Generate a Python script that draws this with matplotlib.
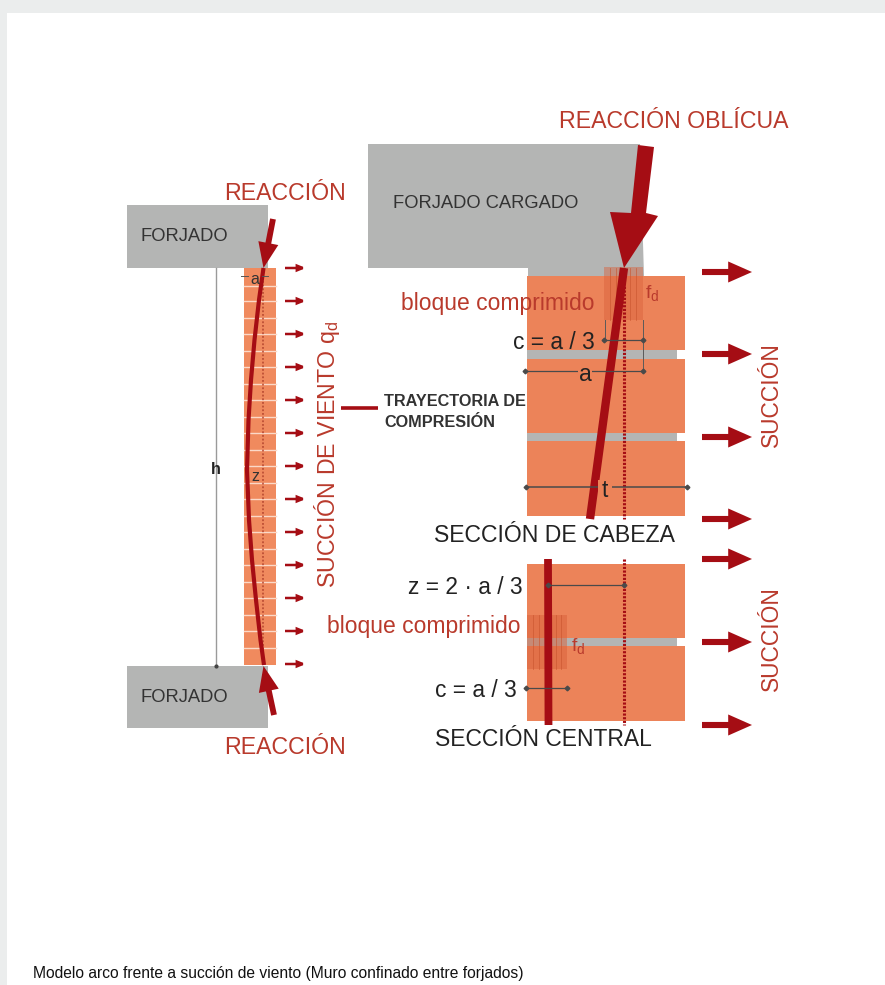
import matplotlib
matplotlib.use("Agg")
import matplotlib.pyplot as plt
from matplotlib.patches import Rectangle, Polygon

plt.rcParams['font.family'] = ['Liberation Sans', 'DejaVu Sans']

RED = '#a50d14'
TXT_RED = '#b93a2c'
ORANGE = '#ec8359'
WALL = '#f08a5e'
GRAY = '#b4b5b4'
DARK = '#333333'

# Left wall
wall_arrow_y = [268, 301, 334, 367, 400, 433, 466, 499, 532, 565, 598, 631, 664]
wall_joint_y = [286, 301, 318, 334, 351, 367, 384, 400, 417, 433, 450, 466, 483, 499,
                516, 532, 549, 565, 582, 598, 615, 631, 648]
arch_y = [268, 300, 340, 380, 420, 470, 520, 560, 600, 640, 665]
arch_x = [263.5, 259, 254.5, 251, 248.5, 247, 249, 252, 256, 260.5, 264]

# Right sections
big_arrow_y = [272, 354, 437, 519, 559, 642, 725]
head_blocks = [(276, 350), (359, 433), (441, 516)]
head_joints = [(350, 359), (433, 441)]
central_blocks = [(564, 638), (646, 721)]
central_joints = [(638, 646)]

fig = plt.figure(figsize=(8.85, 9.85), dpi=100)
ax = fig.add_axes([0, 0, 1, 1])
ax.set_xlim(0, 885)
ax.set_ylim(985, 0)
ax.axis('off')


def rect(x0, y0, x1, y1, **kw):
    kw.setdefault('lw', 0)
    ax.add_patch(Rectangle((x0, y0), x1 - x0, y1 - y0, **kw))


def txt(x, y, s, size, color=DARK, ha='left', va='center', **kw):
    if 'rotation' not in kw:
        y += 1.5
    ax.text(x, y, s, fontsize=size, color=color, ha=ha, va=va, **kw)


def arrow(x0, y0, x1, y1, lw, hw, hl):
    ax.annotate('', xy=(x1, y1), xytext=(x0, y0),
                arrowprops=dict(arrowstyle=f'-|>,head_width={hw},head_length={hl}',
                                lw=lw, color=RED, shrinkA=0, shrinkB=0,
                                joinstyle='miter', capstyle='butt'))


def dim(x0, x1, y, lw=0.9):
    ax.plot([x0, x1], [y, y], color='#4a4a4a', lw=lw, zorder=6)
    ax.plot([x0, x1], [y, y], ls='', marker='D', ms=2.4, color='#4a4a4a', zorder=6)


# page background
rect(0, 0, 885, 13, fc='#ebeded')
rect(0, 0, 7, 985, fc='#ebeded')

# --- left diagram
rect(127, 205, 268, 268, fc=GRAY)
rect(127, 666, 268, 728, fc=GRAY)
rect(244, 268, 276, 665, fc=WALL)
for y in wall_joint_y:
    ax.plot([244, 276], [y, y], color='#fbd9c8', lw=1.0)
ax.plot([263, 263], [270, 665], color='#b5452f', lw=1.1, ls=(0, (1.2, 1.2)))
ax.plot(arch_x, arch_y, color=RED, lw=3.0, solid_capstyle='butt')
ax.plot([216, 216], [268, 666], color='#9a9a9a', lw=1.0)
ax.plot([216], [666], marker='o', ms=2, color='#444444')
arrow(273, 219, 263.5, 268, 4.2, 0.42, 1.05)
arrow(274, 715, 263.5, 666, 4.2, 0.42, 1.05)
for y in wall_arrow_y:
    arrow(285, y, 306, y, 1.8, 0.17, 0.42)
ax.plot([341, 378], [408, 408], color=RED, lw=2.6, solid_capstyle='butt')

txt(140, 235, 'FORJADO', 13.2)
txt(140, 696, 'FORJADO', 13.2)
txt(224, 192, 'REACCIÓN', 16.7, TXT_RED)
txt(224, 746, 'REACCIÓN', 16.7, TXT_RED)
txt(255, 278, 'a', 11.5, DARK, ha='center')
txt(255, 475, 'z', 11.5, DARK, ha='center')
ax.plot([241, 248], [276, 276], color='#555555', lw=0.7)
ax.plot([262, 268], [276, 276], color='#555555', lw=0.7)
rect(211, 460, 222, 477, fc='white')
txt(216, 468, 'h', 11.5, '#222222', ha='center', fontweight='bold')
txt(327, 454, 'SUCCIÓN DE VIENTO q$_{\\mathregular{d}}$', 16.7, TXT_RED, ha='center', rotation=90)
txt(384, 400, 'TRAYECTORIA DE', 11.7, DARK, fontweight='bold')
txt(384, 421, 'COMPRESIÓN', 11.7, DARK, fontweight='bold')

# --- head section
ax.add_patch(Polygon([(368, 144), (640, 144), (644, 276), (528, 276), (528, 268), (368, 268)],
                     closed=True, fc=GRAY, lw=0))
for y0, y1 in head_joints:
    rect(527, y0, 677, y1, fc=GRAY)
for y0, y1 in head_blocks:
    rect(527, y0, 685, y1, fc=ORANGE)
rect(604, 267, 643, 320, fc='#d9603a', alpha=0.45)
for x in (610, 616, 630, 636):
    ax.plot([x, x], [268, 320], color='#c9552f', lw=0.6, alpha=0.7)
ax.plot([624, 624], [268, 519], color=RED, lw=2.2, ls=(0, (0.7, 0.5)), zorder=4)
ax.plot([624, 590], [268, 519], color=RED, lw=6.0, solid_capstyle='butt', zorder=5)
ax.add_patch(Polygon([(638, 145), (654, 147), (646, 213), (658, 216), (624, 268), (610, 212), (631, 213)],
                     closed=True, fc=RED, lw=0, zorder=5))
ax.plot([605, 605], [320, 340], color='#5a5a5a', lw=0.7, zorder=6)
ax.plot([643, 643], [320, 371], color='#5a5a5a', lw=0.7, zorder=6)
dim(604, 643, 340)
dim(525, 643, 371)
dim(526, 687, 487, lw=1.1)
rect(598, 480, 612, 496, fc=ORANGE, zorder=6)

txt(401, 302, 'bloque comprimido', 16.5, TXT_RED, zorder=7)
txt(645, 292, 'f$_{\\mathregular{d}}$', 14, TXT_RED)
txt(513, 341, 'c = a / 3', 16.4, '#222222', zorder=7)
txt(585, 373, 'a', 16.5, '#222222', ha='center', zorder=7,
    bbox=dict(fc=ORANGE, ec='none', pad=0.4))
txt(605, 489, 't', 16.5, '#222222', ha='center', zorder=7)
txt(393, 202, 'FORJADO CARGADO', 13.2)
txt(559, 120, 'REACCIÓN OBLÍCUA', 16.7, TXT_RED)
txt(434, 534, 'SECCIÓN DE CABEZA', 16.6, '#222222')
txt(771, 395, 'SUCCIÓN', 16.4, TXT_RED, ha='center', rotation=90)

# --- central section
for y0, y1 in central_joints:
    rect(527, y0, 677, y1, fc=GRAY)
for y0, y1 in central_blocks:
    rect(527, y0, 685, y1, fc=ORANGE)
rect(527, 615, 567, 669, fc='#d9603a', alpha=0.5)
for x in (533, 539, 556, 561):
    ax.plot([x, x], [615, 669], color='#c9552f', lw=0.6, alpha=0.7)
ax.plot([624, 624], [559, 725], color=RED, lw=2.2, ls=(0, (0.7, 0.5)), zorder=4)
ax.plot([548, 548.5], [559, 725], color=RED, lw=5.6, solid_capstyle='butt', zorder=5)
dim(548, 624, 585)
dim(526, 567, 688)
txt(408, 586, 'z = 2 · a / 3', 16.4, '#222222')
txt(327, 625, 'bloque comprimido', 16.5, TXT_RED)
txt(571, 645, 'f$_{\\mathregular{d}}$', 14, TXT_RED, zorder=7)
txt(435, 689, 'c = a / 3', 16.4, '#222222')
txt(435, 738, 'SECCIÓN CENTRAL', 16.5, '#222222')
txt(771, 639, 'SUCCIÓN', 16.4, TXT_RED, ha='center', rotation=90)

for y in big_arrow_y:
    arrow(702, y, 752, y, 4.4, 0.42, 0.95)

txt(33, 972, 'Modelo arco frente a succión de viento (Muro confinado entre forjados)', 11.25, '#111111')

fig.savefig('out.png', dpi=100)
